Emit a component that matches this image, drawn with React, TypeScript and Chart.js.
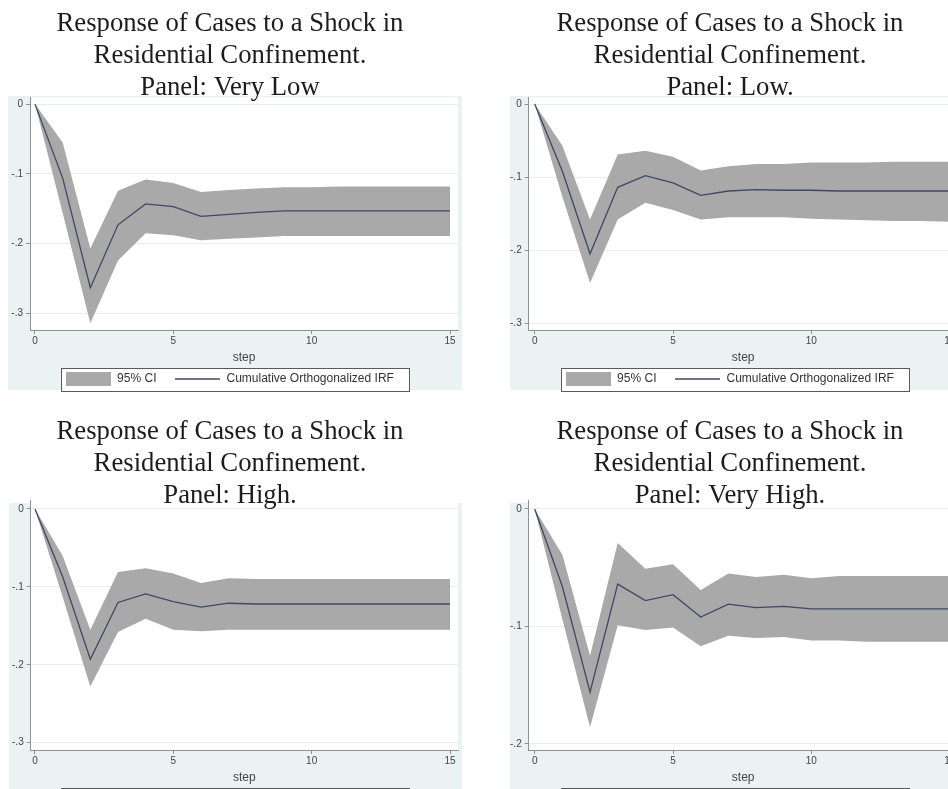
import { useEffect, useRef } from 'react';
import { Chart, registerables } from 'chart.js';

Chart.register(...registerables);

// ---------------- data ----------------
const steps = [0, 1, 2, 3, 4, 5, 6, 7, 8, 9, 10, 11, 12, 13, 14, 15];
const xTickValues = [0, 5, 10, 15];
const yTicksDeep = [0, -0.1, -0.2, -0.3];
const yTicksShallow = [0, -0.1, -0.2];

const titleLine1 = 'Response of Cases to a Shock in';
const titleLine2 = 'Residential Confinement.';
const panelLabels = ['Panel: Very Low', 'Panel: Low.', 'Panel: High.', 'Panel: Very High.'];
const legendTexts = ['95% CI', 'Cumulative Orthogonalized IRF'];
const xAxisTitle = 'step';

// Panel: Very Low
const irfVeryLow = [0, -0.106, -0.263, -0.173, -0.143, -0.147, -0.161, -0.158, -0.155, -0.153, -0.153, -0.153, -0.153, -0.153, -0.153, -0.153];
const upperVeryLow = [0, -0.055, -0.207, -0.124, -0.108, -0.113, -0.126, -0.123, -0.121, -0.119, -0.119, -0.118, -0.118, -0.118, -0.118, -0.118];
const lowerVeryLow = [0, -0.156, -0.314, -0.224, -0.185, -0.188, -0.195, -0.193, -0.191, -0.189, -0.189, -0.189, -0.189, -0.189, -0.189, -0.189];

// Panel: Low
const irfLow = [0, -0.092, -0.205, -0.114, -0.098, -0.108, -0.125, -0.119, -0.117, -0.118, -0.118, -0.119, -0.119, -0.119, -0.119, -0.119];
const upperLow = [0, -0.057, -0.158, -0.069, -0.064, -0.072, -0.091, -0.085, -0.082, -0.082, -0.080, -0.080, -0.080, -0.079, -0.079, -0.079];
const lowerLow = [0, -0.127, -0.245, -0.158, -0.135, -0.145, -0.158, -0.155, -0.155, -0.155, -0.157, -0.158, -0.159, -0.160, -0.160, -0.161];

// Panel: High
const irfHigh = [0, -0.087, -0.193, -0.120, -0.109, -0.119, -0.126, -0.121, -0.122, -0.122, -0.122, -0.122, -0.122, -0.122, -0.122, -0.122];
const upperHigh = [0, -0.060, -0.155, -0.081, -0.076, -0.083, -0.095, -0.089, -0.090, -0.090, -0.090, -0.090, -0.090, -0.090, -0.090, -0.090];
const lowerHigh = [0, -0.113, -0.228, -0.158, -0.141, -0.155, -0.157, -0.155, -0.155, -0.155, -0.155, -0.155, -0.155, -0.155, -0.155, -0.155];

// Panel: Very High
const irfVeryHigh = [0, -0.066, -0.156, -0.064, -0.078, -0.073, -0.092, -0.081, -0.084, -0.083, -0.085, -0.085, -0.085, -0.085, -0.085, -0.085];
const upperVeryHigh = [0, -0.039, -0.125, -0.029, -0.051, -0.047, -0.069, -0.055, -0.058, -0.056, -0.059, -0.057, -0.057, -0.057, -0.057, -0.057];
const lowerVeryHigh = [0, -0.094, -0.186, -0.099, -0.103, -0.101, -0.117, -0.108, -0.110, -0.109, -0.112, -0.112, -0.113, -0.113, -0.113, -0.113];

// ---------------- styles ----------------
const regionColor = '#eaf2f3';
const bandColor = '#a9a9a9';
const lineColor = '#3f4866';
const axisColor = '#8d9294';
const gridColor = '#e8eef0';
const textColor = '#444444';
const titleColor = '#1c1c1c';
const sansFont = "'Liberation Sans', Arial, sans-serif";
const serifFont = "'Liberation Serif', 'Times New Roman', serif";

type PanelSpec = {
  name: string;
  irf: number[];
  upper: number[];
  lower: number[];
  yTicks: number[];
  yMin: number;
  yMax: number;
  xMin: number;
  xMax: number;
  left: number;
  top: number;
  width: number;
  height: number;
  padL: number;
  padR: number;
  yAxisW: number;
  titlePadTop: number;
  titlePadBottom: number;
  legendMaxH: number;
  region: [number, number, number, number];
};

const panels: PanelSpec[] = [
  {
    name: panelLabels[0], irf: irfVeryLow, upper: upperVeryLow, lower: lowerVeryLow,
    yTicks: yTicksDeep, yMin: -0.3237, yMax: 0.0102, xMin: -0.1807, xMax: 15.289,
    left: 0, top: 0, width: 474, height: 395, padL: 2, padR: 16, yAxisW: 28,
    titlePadTop: 8.1, titlePadBottom: -7.1, legendMaxH: 44, region: [8, 96, 462, 390],
  },
  {
    name: panelLabels[1], irf: irfLow, upper: upperLow, lower: lowerLow,
    yTicks: yTicksDeep, yMin: -0.3093, yMax: 0.0097, xMin: -0.217, xMax: 15.289,
    left: 474, top: 0, width: 500, height: 395, padL: 28.3, padR: 16.3, yAxisW: 26.4,
    titlePadTop: 8.1, titlePadBottom: -7.1, legendMaxH: 44, region: [36, 96, 500, 390],
  },
  {
    name: panelLabels[2], irf: irfHigh, upper: upperHigh, lower: lowerHigh,
    yTicks: yTicksDeep, yMin: -0.3094, yMax: 0.0115, xMin: -0.155, xMax: 15.289,
    left: 0, top: 395, width: 474, height: 420, padL: 2, padR: 16, yAxisW: 28.7,
    titlePadTop: 20.6, titlePadBottom: -11.6, legendMaxH: 59.3, region: [9, 108, 462, 420],
  },
  {
    name: panelLabels[3], irf: irfVeryHigh, upper: upperVeryHigh, lower: lowerVeryHigh,
    yTicks: yTicksShallow, yMin: -0.2053, yMax: 0.00766, xMin: -0.217, xMax: 15.289,
    left: 474, top: 395, width: 500, height: 420, padL: 28.3, padR: 16.3, yAxisW: 26.4,
    titlePadTop: 20.6, titlePadBottom: -11.6, legendMaxH: 60.3, region: [36, 108, 500, 420],
  },
];

function fmtY(v: number): string {
  if (Math.abs(v) < 1e-9) return '0';
  return v.toFixed(1).replace('0.', '.');
}

function makeSwatch(kind: 'rect' | 'line'): HTMLCanvasElement {
  const c = document.createElement('canvas');
  c.width = 45;
  c.height = 14;
  const g = c.getContext('2d')!;
  if (kind === 'rect') {
    g.fillStyle = bandColor;
    g.fillRect(0, 0, 45, 14);
  } else {
    g.strokeStyle = lineColor;
    g.lineWidth = 1.3;
    g.beginPath();
    g.moveTo(0, 7);
    g.lineTo(45, 7);
    g.stroke();
  }
  return c;
}

function Panel({ spec }: { spec: PanelSpec }) {
  const ref = useRef<HTMLCanvasElement>(null);

  useEffect(() => {
    const canvas = ref.current;
    if (!canvas) return;
    const rectSwatch = makeSwatch('rect');
    const lineSwatch = makeSwatch('line');
    const pts = (arr: number[]) => steps.map((s, i) => ({ x: s, y: arr[i] }));

    const backgroundPlugin = {
      id: 'stataBackground',
      beforeDraw(chart: any) {
        const ctx = chart.ctx as CanvasRenderingContext2D;
        const [x0, y0, x1, y1] = spec.region;
        const ca = chart.chartArea;
        ctx.save();
        ctx.fillStyle = regionColor;
        ctx.fillRect(x0, y0, x1 - x0, y1 - y0);
        ctx.fillStyle = '#ffffff';
        ctx.fillRect(ca.left, ca.top, ca.right - ca.left, ca.bottom - ca.top);
        const hb = chart.legend && chart.legend.legendHitBoxes;
        if (hb && hb.length >= 2) {
          const bx0 = Math.round(hb[0].left - 5) + 0.5;
          const bx1 = Math.round(hb[1].left + hb[1].width + 15) + 0.5;
          const cy = hb[0].top + 6;
          const by0 = Math.round(cy - 11.5) + 0.5;
          const by1 = Math.round(cy + 11.5) + 0.5;
          ctx.fillStyle = '#ffffff';
          ctx.fillRect(bx0, by0, bx1 - bx0, by1 - by0);
          ctx.strokeStyle = '#5a5a5a';
          ctx.lineWidth = 1;
          ctx.strokeRect(bx0, by0, bx1 - bx0, by1 - by0);
        }
        ctx.restore();
      },
    };

    const chart = new Chart(canvas, {
      type: 'line',
      data: {
        datasets: [
          {
            label: legendTexts[0],
            data: pts(spec.upper),
            fill: '+1',
            backgroundColor: bandColor,
            borderColor: 'rgba(0,0,0,0)',
            borderWidth: 0,
            pointRadius: 0,
            tension: 0,
            order: 2,
          },
          {
            label: 'lower',
            data: pts(spec.lower),
            fill: false,
            backgroundColor: bandColor,
            borderColor: 'rgba(0,0,0,0)',
            borderWidth: 0,
            pointRadius: 0,
            tension: 0,
            order: 2,
          },
          {
            label: legendTexts[1],
            data: pts(spec.irf),
            fill: false,
            borderColor: lineColor,
            borderWidth: 1.3,
            pointRadius: 0,
            tension: 0,
            order: 1,
          },
        ],
      },
      options: {
        animation: false,
        responsive: false,
        devicePixelRatio: 1,
        events: [],
        layout: {
          autoPadding: false,
          padding: { left: spec.padL, right: spec.padR, top: 0, bottom: 0 },
        },
        plugins: {
          tooltip: { enabled: false },
          title: {
            display: true,
            text: [titleLine1, titleLine2, spec.name],
            color: titleColor,
            font: { family: serifFont, size: 26.7, weight: 'normal', lineHeight: 32 / 26.7 },
            padding: { top: spec.titlePadTop, bottom: spec.titlePadBottom },
          },
          legend: {
            display: true,
            position: 'bottom',
            maxHeight: spec.legendMaxH,
            labels: {
              usePointStyle: true,
              pointStyleWidth: 45,
              padding: 19,
              color: '#333333',
              font: { family: sansFont, size: 12 },
              generateLabels: () => [
                {
                  text: legendTexts[0],
                  pointStyle: rectSwatch,
                  fillStyle: bandColor,
                  strokeStyle: bandColor,
                  lineWidth: 0,
                  hidden: false,
                  datasetIndex: 0,
                  fontColor: '#333333',
                },
                {
                  text: legendTexts[1],
                  pointStyle: lineSwatch,
                  fillStyle: lineColor,
                  strokeStyle: lineColor,
                  lineWidth: 0,
                  hidden: false,
                  datasetIndex: 2,
                  fontColor: '#333333',
                },
              ],
            },
          },
        },
        scales: {
          x: {
            type: 'linear',
            min: spec.xMin,
            max: spec.xMax,
            afterFit: (s: any) => { s.height = 24; },
            afterBuildTicks: (s: any) => { s.ticks = xTickValues.map((v) => ({ value: v })); },
            ticks: {
              autoSkip: false,
              maxRotation: 0,
              padding: 1,
              color: textColor,
              font: { family: sansFont, size: 10 },
              callback: (v: any) => String(v),
            },
            grid: { drawOnChartArea: false, drawTicks: true, tickLength: 4, tickColor: axisColor },
            border: { display: true, color: axisColor, width: 1 },
            title: {
              display: true,
              text: xAxisTitle,
              color: textColor,
              font: { family: sansFont, size: 12 },
              padding: { top: 0, bottom: -10.7 },
            },
          },
          y: {
            type: 'linear',
            min: spec.yMin,
            max: spec.yMax,
            afterFit: (s: any) => { s.width = spec.yAxisW; },
            afterBuildTicks: (s: any) => { s.ticks = spec.yTicks.map((v) => ({ value: v })); },
            ticks: {
              autoSkip: false,
              padding: 3,
              color: textColor,
              font: { family: sansFont, size: 10 },
              callback: (v: any) => fmtY(Number(v)),
            },
            grid: { color: gridColor, lineWidth: 1, drawTicks: true, tickLength: 4, tickColor: axisColor },
            border: { display: true, color: axisColor, width: 1 },
          },
        },
      } as any,
      plugins: [backgroundPlugin],
    });

    return () => chart.destroy();
  }, [spec]);

  return (
    <canvas
      ref={ref}
      width={spec.width}
      height={spec.height}
      style={{ position: 'absolute', left: spec.left, top: spec.top, width: spec.width, height: spec.height }}
    />
  );
}

export default function App() {
  return (
    <div
      style={{
        position: 'absolute',
        left: 0,
        top: 0,
        width: 948,
        height: 789,
        overflow: 'hidden',
        background: '#ffffff',
      }}
    >
      {panels.map((p) => (
        <Panel key={p.name} spec={p} />
      ))}
    </div>
  );
}
